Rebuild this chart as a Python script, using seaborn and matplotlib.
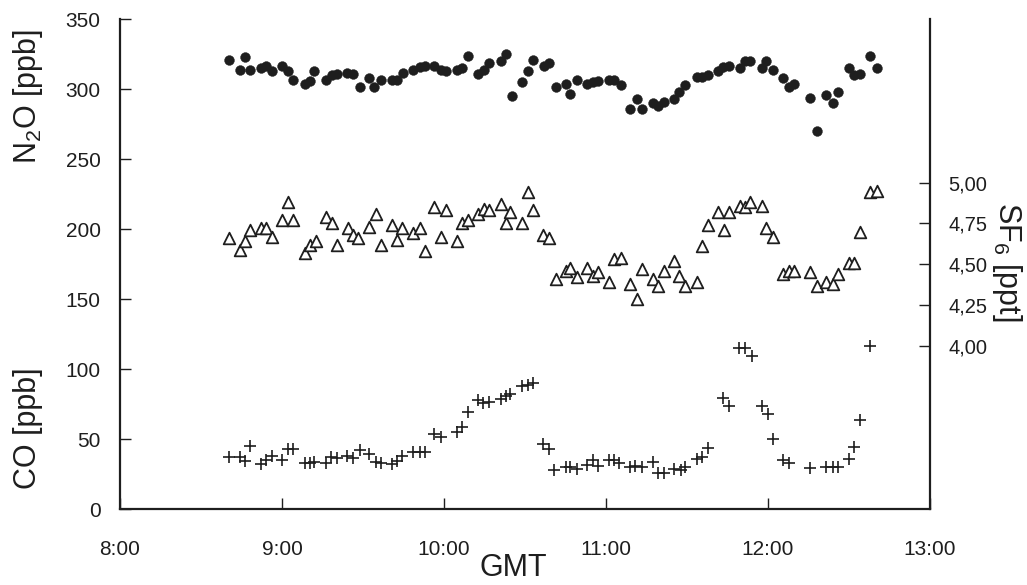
import matplotlib
matplotlib.use("Agg")
import matplotlib.pyplot as plt
import numpy as np
import pandas as pd
import seaborn as sns
from matplotlib.ticker import FuncFormatter

# data (time in decimal hours GMT)
n2o_time = [8.67, 8.74, 8.77, 8.80, 8.87, 8.90, 8.94, 9.00, 9.04, 9.07, 9.14, 9.17, 9.20,
            9.27, 9.31, 9.34, 9.40, 9.44, 9.48, 9.54, 9.57, 9.61, 9.68, 9.71, 9.75, 9.81,
            9.85, 9.88, 9.94, 9.98, 10.01, 10.08, 10.11, 10.15, 10.21, 10.25, 10.28, 10.35,
            10.38, 10.42, 10.48, 10.52, 10.55, 10.62, 10.65, 10.69, 10.75, 10.78, 10.82,
            10.88, 10.92, 10.95, 11.02, 11.05, 11.09, 11.15, 11.19, 11.22, 11.29, 11.32,
            11.36, 11.42, 11.45, 11.49, 11.56, 11.59, 11.63, 11.69, 11.72, 11.76, 11.83,
            11.86, 11.89, 11.96, 11.99, 12.03, 12.09, 12.13, 12.16, 12.26, 12.30, 12.36,
            12.40, 12.43, 12.50, 12.53, 12.57, 12.63, 12.67]
n2o_ppb = [321, 314, 323, 314, 315, 317, 313, 317, 313, 307, 304, 306, 313,
           307, 310, 311, 312, 311, 302, 308, 302, 307, 307, 307, 312, 314,
           316, 317, 317, 314, 313, 314, 315, 324, 311, 314, 319, 320,
           325, 295, 305, 313, 321, 317, 319, 302, 304, 297, 307,
           304, 305, 306, 307, 307, 303, 286, 293, 286, 290, 288,
           291, 293, 298, 303, 309, 309, 310, 313, 316, 317, 315,
           320, 320, 315, 320, 314, 308, 302, 304, 294, 270, 296,
           290, 298, 315, 310, 311, 324, 315]

sf6_time = [8.67, 8.74, 8.77, 8.80, 8.87, 8.90, 8.94, 9.00, 9.04, 9.07, 9.14, 9.17, 9.21,
            9.27, 9.31, 9.34, 9.41, 9.44, 9.47, 9.54, 9.58, 9.61, 9.68, 9.71, 9.74, 9.81,
            9.85, 9.88, 9.94, 9.98, 10.01, 10.08, 10.11, 10.15, 10.21, 10.25, 10.28, 10.35,
            10.38, 10.41, 10.48, 10.52, 10.55, 10.61, 10.65, 10.69, 10.75, 10.78, 10.82,
            10.88, 10.92, 10.95, 11.02, 11.05, 11.09, 11.15, 11.19, 11.22, 11.29, 11.32,
            11.36, 11.42, 11.45, 11.49, 11.56, 11.59, 11.63, 11.69, 11.73, 11.76, 11.83,
            11.86, 11.89, 11.96, 11.99, 12.03, 12.09, 12.13, 12.16, 12.26, 12.30, 12.36,
            12.40, 12.43, 12.50, 12.53, 12.57, 12.63, 12.67]
sf6_ppt = [4.66, 4.59, 4.64, 4.71, 4.72, 4.72, 4.67, 4.77, 4.88, 4.77, 4.57, 4.62, 4.64,
           4.79, 4.75, 4.62, 4.72, 4.68, 4.66, 4.73, 4.81, 4.62, 4.74, 4.65, 4.72, 4.69,
           4.72, 4.58, 4.85, 4.67, 4.83, 4.64, 4.75, 4.77, 4.81, 4.84, 4.83, 4.87,
           4.75, 4.82, 4.75, 4.94, 4.83, 4.68, 4.66, 4.41, 4.46, 4.48, 4.42,
           4.48, 4.43, 4.45, 4.39, 4.53, 4.54, 4.38, 4.29, 4.47, 4.41, 4.37,
           4.46, 4.52, 4.43, 4.37, 4.39, 4.61, 4.74, 4.82, 4.71, 4.82, 4.86,
           4.85, 4.88, 4.86, 4.72, 4.67, 4.44, 4.46, 4.46, 4.45, 4.37, 4.39,
           4.38, 4.44, 4.51, 4.51, 4.70, 4.94, 4.95]

co_time = [8.67, 8.74, 8.77, 8.80, 8.87, 8.90, 8.94, 9.00, 9.04, 9.07, 9.14, 9.17, 9.20,
           9.27, 9.30, 9.34, 9.40, 9.44, 9.48, 9.54, 9.58, 9.61, 9.68, 9.71, 9.74, 9.81,
           9.85, 9.88, 9.94, 9.98, 10.08, 10.11, 10.15, 10.21, 10.24, 10.28, 10.35,
           10.38, 10.41, 10.48, 10.52, 10.55, 10.61, 10.65, 10.68, 10.75, 10.78, 10.82,
           10.88, 10.92, 10.95, 11.02, 11.05, 11.08, 11.15, 11.18, 11.22, 11.29, 11.32,
           11.36, 11.42, 11.46, 11.49, 11.56, 11.59, 11.63, 11.72, 11.76, 11.82, 11.86,
           11.90, 11.96, 12.00, 12.03, 12.09, 12.13, 12.26, 12.36, 12.40, 12.43, 12.50,
           12.53, 12.57, 12.63]
co_ppb = [37.6, 37.4, 34.7, 45.2, 32.4, 35.2, 38.1, 35.2, 43.3, 43.3, 33.3, 33.3, 33.8,
          33.3, 37.6, 36.9, 38.3, 36.4, 42.4, 39.3, 34.0, 33.3, 32.1, 34.7, 38.1, 40.7,
          40.7, 40.7, 53.8, 51.9, 55.2, 58.6, 69.5, 78.1, 76.1, 76.9, 78.6,
          81.1, 82.1, 88.1, 88.8, 90.4, 46.4, 42.9, 28.1, 30.2, 30.2, 29.0,
          31.9, 35.2, 30.9, 35.4, 35.0, 33.3, 30.4, 30.7, 30.4, 33.6, 26.1,
          26.1, 28.6, 28.1, 30.4, 35.9, 37.1, 43.6, 79.3, 73.8, 115.0, 115.0,
          109.5, 74.0, 68.3, 50.2, 35.2, 32.9, 29.3, 30.0, 30.0, 30.0, 36.1,
          44.5, 63.8, 116.6]

hour_ticks = [8, 9, 10, 11, 12, 13]
left_ticks = [0, 50, 100, 150, 200, 250, 300, 350]
sf6_ticks = [4.00, 4.25, 4.50, 4.75, 5.00]

n2o_df = pd.DataFrame({"time": n2o_time, "value": n2o_ppb})
sf6_df = pd.DataFrame({"time": sf6_time, "value": sf6_ppt})
co_df = pd.DataFrame({"time": co_time, "value": co_ppb})

# style
sns.set_theme(style="white")
plt.rcParams["font.family"] = ["Liberation Sans", "DejaVu Sans"]
plt.rcParams["mathtext.fontset"] = "custom"
plt.rcParams["mathtext.rm"] = "Liberation Sans"
plt.rcParams["mathtext.it"] = "Liberation Sans"
ink = "#1e1e1e"

fig = plt.figure(figsize=(10.27, 5.85), dpi=100, facecolor="white")
ax = fig.add_axes([0.1168, 0.1294, 0.7888, 0.8376])
ax2 = ax.twinx()

sns.scatterplot(data=n2o_df, x="time", y="value", ax=ax, marker="o", s=50,
                color=ink, edgecolor=ink, linewidth=0.3)
sns.scatterplot(data=co_df, x="time", y="value", ax=ax, marker="+", s=70,
                color=ink, linewidth=1.2)
sns.scatterplot(data=sf6_df, x="time", y="value", ax=ax2, marker="^", s=70,
                facecolor="white", edgecolor=ink, linewidth=1.3)

ax.set_xlim(8, 13)
ax.set_ylim(0, 350)
ax2.set_ylim(3, 6)
ax.set_xticks(hour_ticks)
ax.set_xticklabels([f"{h}:00" for h in hour_ticks])
ax.set_yticks(left_ticks)
ax2.set_yticks(sf6_ticks)
ax2.yaxis.set_major_formatter(FuncFormatter(lambda v, p: f"{v:.2f}".replace(".", ",")))

ax.set_xlabel("")
ax.set_ylabel("")
ax2.set_ylabel("")

for a in (ax, ax2):
    a.spines["top"].set_visible(False)
    for side in ("left", "bottom", "right"):
        a.spines[side].set_linewidth(1.6)
        a.spines[side].set_color(ink)
ax.spines["right"].set_visible(False)
ax2.spines["left"].set_visible(False)
ax2.spines["bottom"].set_visible(False)

ax.tick_params(axis="y", direction="in", length=8, width=1, colors=ink,
               labelsize=15, pad=14, left=True)
ax.tick_params(axis="x", direction="in", length=8, width=1, colors=ink,
               labelsize=15, pad=22, bottom=True)
ax2.tick_params(axis="y", direction="in", length=8, width=1, colors=ink,
                labelsize=14.5, pad=13, right=True)

# axis titles
fig.text(0.5, 0.004, "GMT", ha="center", va="bottom", fontsize=22, color=ink)
fig.text(0.027, 0.835, r"N$_2$O [ppb]", rotation=90, ha="center", va="center",
         fontsize=22, color=ink)
fig.text(0.027, 0.268, "CO [ppb]", rotation=90, ha="center", va="center",
         fontsize=22, color=ink)
fig.text(0.981, 0.553, r"SF$_6$ [ppt]", rotation=270, ha="center", va="center",
         fontsize=22, color=ink)

fig.savefig("out.png", dpi=100, facecolor="white")
